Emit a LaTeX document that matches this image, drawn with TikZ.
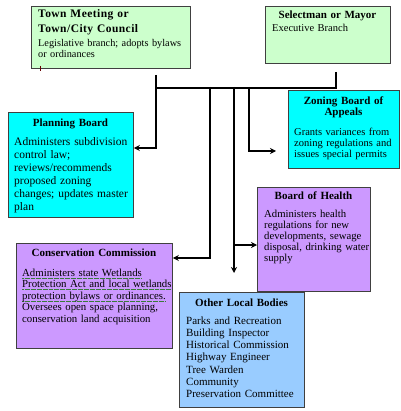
\documentclass[tikz,border=0pt]{standalone}
\usepackage{fontspec}
\setmainfont{Liberation Serif}
\usetikzlibrary{arrows.meta}
\definecolor{tmgreen}{HTML}{CCFFCC}
\definecolor{zcyan}{HTML}{00FFFF}
\definecolor{bpurple}{HTML}{CC99FF}
\definecolor{lblue}{HTML}{99CCFF}
\definecolor{edgegray}{HTML}{404040}
\definecolor{squig}{HTML}{3A7A3A}
\newsavebox{\gulbox}
\newcommand{\gul}[1]{\sbox{\gulbox}{#1}\leavevmode\rlap{\textcolor{squig}{\hbox to \wd\gulbox{\xleaders\hbox{\rule[-2.2pt]{0.7pt}{0.6pt}\kern0.5pt}\hfill}}}\usebox{\gulbox}}
\begin{document}
\begin{tikzpicture}[x=1pt,y=-1pt,
  box/.style={draw=edgegray, line width=0.8pt, anchor=north west, inner sep=0pt},
  ttl/.style={font=\fontsize{11}{13}\selectfont\bfseries, anchor=base, inner sep=0pt, text width=150pt, align=center},
  bodytxt/.style={anchor=base west, inner sep=0pt, align=left, text width=170pt, font=\fontsize{10.5}{11}\selectfont},
  conn/.style={line width=2pt},
  arr/.style={conn, -{Stealth[length=6pt,width=6pt]}}]
\useasboundingbox (0,0) rectangle (400,411);

% boxes
\node[box, fill=tmgreen, minimum width=159pt, minimum height=62pt] (tm) at (31,6) {};
\node[box, fill=tmgreen, minimum width=125pt, minimum height=57pt] (sm) at (265,6) {};
\node[box, fill=zcyan, minimum width=125pt, minimum height=105pt] (pb) at (8,112) {};
\node[box, fill=zcyan, minimum width=111pt, minimum height=78pt] (zba) at (288,90) {};
\node[box, fill=bpurple, minimum width=113pt, minimum height=104pt] (boh) at (257,187) {};
\node[box, fill=bpurple, minimum width=156pt, minimum height=105pt] (cc) at (16,243) {};
\node[box, fill=lblue, minimum width=125pt, minimum height=115pt] (olb) at (179,292) {};

% Town Meeting
\node[ttl, anchor=base west, align=left, font=\fontsize{11.5}{15}\selectfont\bfseries\addfontfeatures{LetterSpace=4}] (tmT) at (38,18) {Town Meeting or\\Town/City Council};
\node[bodytxt, font=\fontsize{10.3}{11}\selectfont] (tmB) at (38,47) {Legislative branch; adopts bylaws\\or ordinances};
\draw[line width=0.8pt, black!60!red] (40,66) -- (40,71);

% Selectman
\node[ttl] (smT) at (327.5,19) {Selectman or Mayor};
\node[bodytxt] (smB) at (272,32) {Executive Branch};

% Planning Board
\node[ttl] (pbT) at (70.5,127) {Planning Board};
\node[bodytxt, font=\fontsize{11.5}{13}\selectfont] (pbB) at (14,146) {Administers subdivision\\control law;\\reviews/recommends\\proposed zoning\\changes; updates master\\plan};

% Zoning Board of Appeals
\node[ttl, font=\fontsize{11}{11}\selectfont\bfseries] (zbaT) at (343.5,105) {Zoning Board of\\Appeals};
\node[bodytxt] (zbaB) at (294,136) {Grants variances from\\zoning regulations and\\issues special permits};

% Board of Health
\node[ttl] (bohT) at (313.5,200) {Board of Health};
\node[bodytxt, font=\fontsize{10.7}{11}\selectfont] (bohB) at (264,217) {Administers health\\regulations for new\\developments, sewage\\disposal, drinking water\\supply};

% Conservation Commission
\node[ttl] (ccT) at (94,256) {Conservation Commission};
\node[bodytxt, font=\fontsize{10.8}{11.5}\selectfont] (ccB) at (22,276) {\gul{Administers state Wetlands}\\\gul{Protection Act and local wetlands}\\\gul{protection bylaws or ordinances.}\\Oversees open space planning,\\conservation land acquisition};

% Other Local Bodies
\node[ttl] (olbT) at (241.5,306) {Other Local Bodies};
\node[bodytxt, font=\fontsize{11}{12.3}\selectfont] (olbB) at (186,324) {Parks and Recreation\\Building Inspector\\Historical Commission\\Highway Engineer\\Tree Warden\\Community\\Preservation Committee};

% connector points
\coordinate (smtail) at (336,72);
\coordinate (busR) at (336,88);
\coordinate (busL) at (156,88);
\coordinate (pbtop) at (156,75);
\coordinate (pbturn) at (156,148);
\coordinate (zt) at (249,87);
\coordinate (zturn) at (249,151);
\coordinate (ztip) at (276,151);
\coordinate (bt) at (234,87);
\coordinate (bend) at (234,273);
\coordinate (bj) at (234,245);
\coordinate (ct) at (210,87);
\coordinate (cturn) at (210,258);

% connectors
\draw[conn, line join=miter] (smtail) -- (busR) -- (busL);
\draw[arr, line join=miter] (pbtop) -- (pbturn) -- (pbturn -| pb.east);
\draw[arr, line join=miter] (zt) -- (zturn) -- (ztip);
\draw[arr] (bt) -- (bend);
\draw[arr] (bj) -- (bj -| boh.west);
\draw[arr, line join=miter] (ct) -- (cturn) -- (cturn -| cc.east);
\end{tikzpicture}
\end{document}
